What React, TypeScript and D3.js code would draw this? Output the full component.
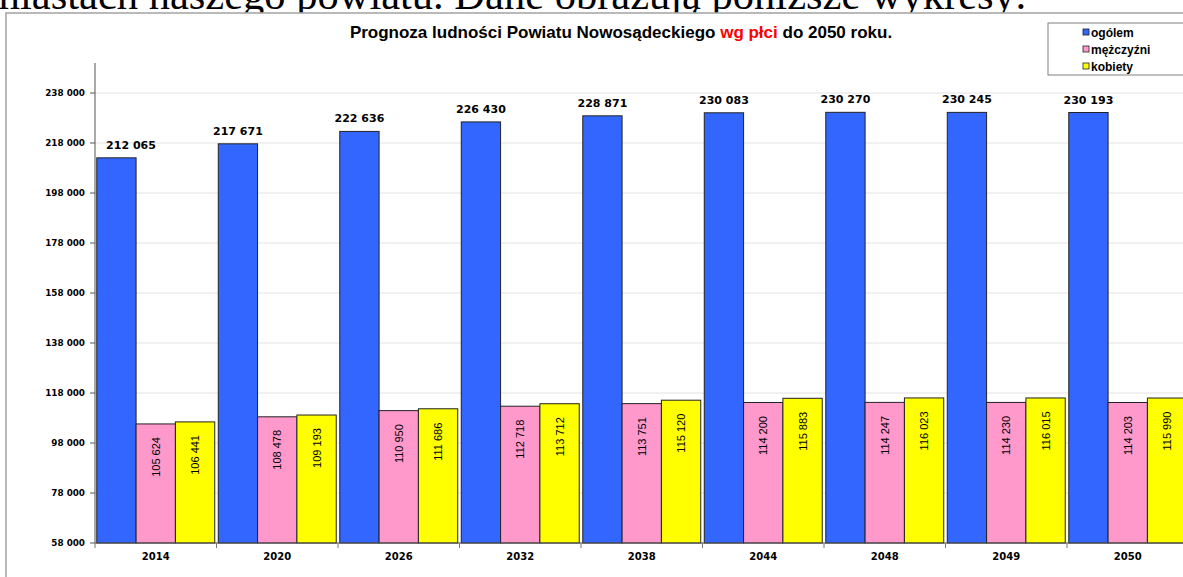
import React from 'react';
import * as d3 from 'd3';

const years = ['2014', '2020', '2026', '2032', '2038', '2044', '2048', '2049', '2050'];
const ogolem = [212065, 217671, 222636, 226430, 228871, 230083, 230270, 230245, 230193];
const mezczyzni = [105624, 108478, 110950, 112718, 113751, 114200, 114247, 114230, 114203];
const kobiety = [106441, 109193, 111686, 113712, 115120, 115883, 116023, 116015, 115990];
const seriesNames = ['ogólem', 'mężczyźni', 'kobiety'];
const seriesColors = ['#3366ff', '#ff99cc', '#ffff00'];
const yTicks = [58000, 78000, 98000, 118000, 138000, 158000, 178000, 198000, 218000, 238000];
const yDomain = [58000, 250000];

const W = 1183;
const H = 577;
const plotLeft = 95;
const plotTop = 63;
const plotBottom = 543;
const bandStep = 121.5;

const fmt = (v: number) => d3.format(',')(v).replace(/,/g, ' ');

export default function App() {
  const y = d3.scaleLinear().domain(yDomain).range([plotBottom, plotTop]);
  const x = d3
    .scaleBand<string>()
    .domain(years)
    .range([plotLeft, plotLeft + bandStep * years.length])
    .paddingInner(0)
    .paddingOuter(0);
  const xi = d3
    .scaleBand<string>()
    .domain(seriesNames)
    .range([0, x.bandwidth()])
    .paddingInner(0)
    .paddingOuter(0.045);
  const series = [ogolem, mezczyzni, kobiety];
  const plotRight = plotLeft + bandStep * years.length;
  const axisFont = '"DejaVu Sans", sans-serif';
  const arial = '"Liberation Sans", Arial, sans-serif';

  return (
    <div style={{ position: 'absolute', left: 0, top: 0, width: W, height: H, overflow: 'hidden', background: '#fff' }}>
      <svg width={W} height={H} style={{ display: 'block' }}>
        <rect x={0} y={0} width={W} height={H} fill="#fff" />
        <text x={-13} y={9} fontFamily='"Liberation Serif", "Times New Roman", serif' fontSize={42.5} fill="#000">
          miastach naszego powiatu. Dane obrazują poniższe wykresy:
        </text>
        <rect x={6} y={13} width={W + 50} height={H + 50} fill="#fff" stroke="#a8a8a8" strokeWidth={1.6} />

        {/* title */}
        <text x={621} y={38} textAnchor="middle" fontFamily={arial} fontWeight="bold" fontSize={17} fill="#000">
          <tspan>Prognoza ludności Powiatu Nowosądeckiego </tspan>
          <tspan fill="#ff0000">wg płci</tspan>
          <tspan> do 2050 roku.</tspan>
        </text>

        {/* legend */}
        <rect x={1048} y={23} width={W} height={52} fill="#fff" stroke="#808080" strokeWidth={1} />
        {seriesNames.map((n, i) => (
          <g key={n}>
            <rect x={1083} y={29 + i * 17} width={6} height={6} fill={seriesColors[i]} stroke="#222" strokeWidth={0.8} />
            <text x={1091} y={36.5 + i * 17} fontFamily={arial} fontWeight="bold" fontSize={12} fill="#000">
              {n}
            </text>
          </g>
        ))}

        {/* gridlines */}
        {yTicks.map((t) => (
          <line key={'g' + t} x1={plotLeft} x2={plotRight} y1={y(t)} y2={y(t)} stroke="#e2e2e2" strokeWidth={1} />
        ))}

        {/* bars */}
        {years.map((yr, i) => (
          <g key={yr}>
            {series.map((s, k) => {
              const bx = (x(yr) as number) + (xi(seriesNames[k]) as number);
              const by = y(s[i]);
              return (
                <rect
                  key={k}
                  x={bx}
                  y={by}
                  width={xi.bandwidth()}
                  height={plotBottom - by}
                  fill={seriesColors[k]}
                  stroke="#222"
                  strokeWidth={1}
                />
              );
            })}
          </g>
        ))}

        {/* value labels */}
        {years.map((yr, i) => {
          const cx0 = (x(yr) as number) + (xi(seriesNames[0]) as number) + xi.bandwidth() / 2;
          const lx = Math.max(cx0, plotLeft + 11 + 25);
          return (
            <g key={'l' + yr}>
              <text x={lx} y={y(ogolem[i]) - 9} textAnchor="middle" fontFamily={axisFont} fontWeight="bold" fontSize={11} fill="#000">
                {fmt(ogolem[i])}
              </text>
              {[1, 2].map((k) => {
                const cx = (x(yr) as number) + (xi(seriesNames[k]) as number) + xi.bandwidth() / 2;
                const v = series[k][i];
                return (
                  <text
                    key={k}
                    transform={`translate(${cx},${y(v) + 33}) rotate(-90)`}
                    textAnchor="middle"
                    dominantBaseline="central"
                    fontFamily={arial}
                    fontSize={11}
                    fill="#000"
                  >
                    {fmt(v)}
                  </text>
                );
              })}
            </g>
          );
        })}

        {/* axes */}
        <line x1={plotLeft} x2={plotLeft} y1={plotTop} y2={plotBottom} stroke="#555" strokeWidth={1} />
        <line x1={plotLeft} x2={plotRight} y1={plotBottom} y2={plotBottom} stroke="#555" strokeWidth={1} />
        {yTicks.map((t) => (
          <g key={'t' + t}>
            <line x1={plotLeft - 5} x2={plotLeft} y1={y(t)} y2={y(t)} stroke="#555" strokeWidth={1} />
            <text x={85} y={y(t) + 3} textAnchor="end" fontFamily={axisFont} fontWeight="bold" fontSize={8.8} fill="#000">
              {fmt(t)}
            </text>
          </g>
        ))}
        {years.map((yr) => (
          <g key={'x' + yr}>
            <line x1={x(yr)} x2={x(yr)} y1={plotBottom} y2={plotBottom + 5} stroke="#777" strokeWidth={1} />
            <text
              x={(x(yr) as number) + x.bandwidth() / 2}
              y={559.5}
              textAnchor="middle"
              fontFamily={axisFont}
              fontWeight="bold"
              fontSize={10}
              fill="#000"
            >
              {yr}
            </text>
          </g>
        ))}
      </svg>
    </div>
  );
}
